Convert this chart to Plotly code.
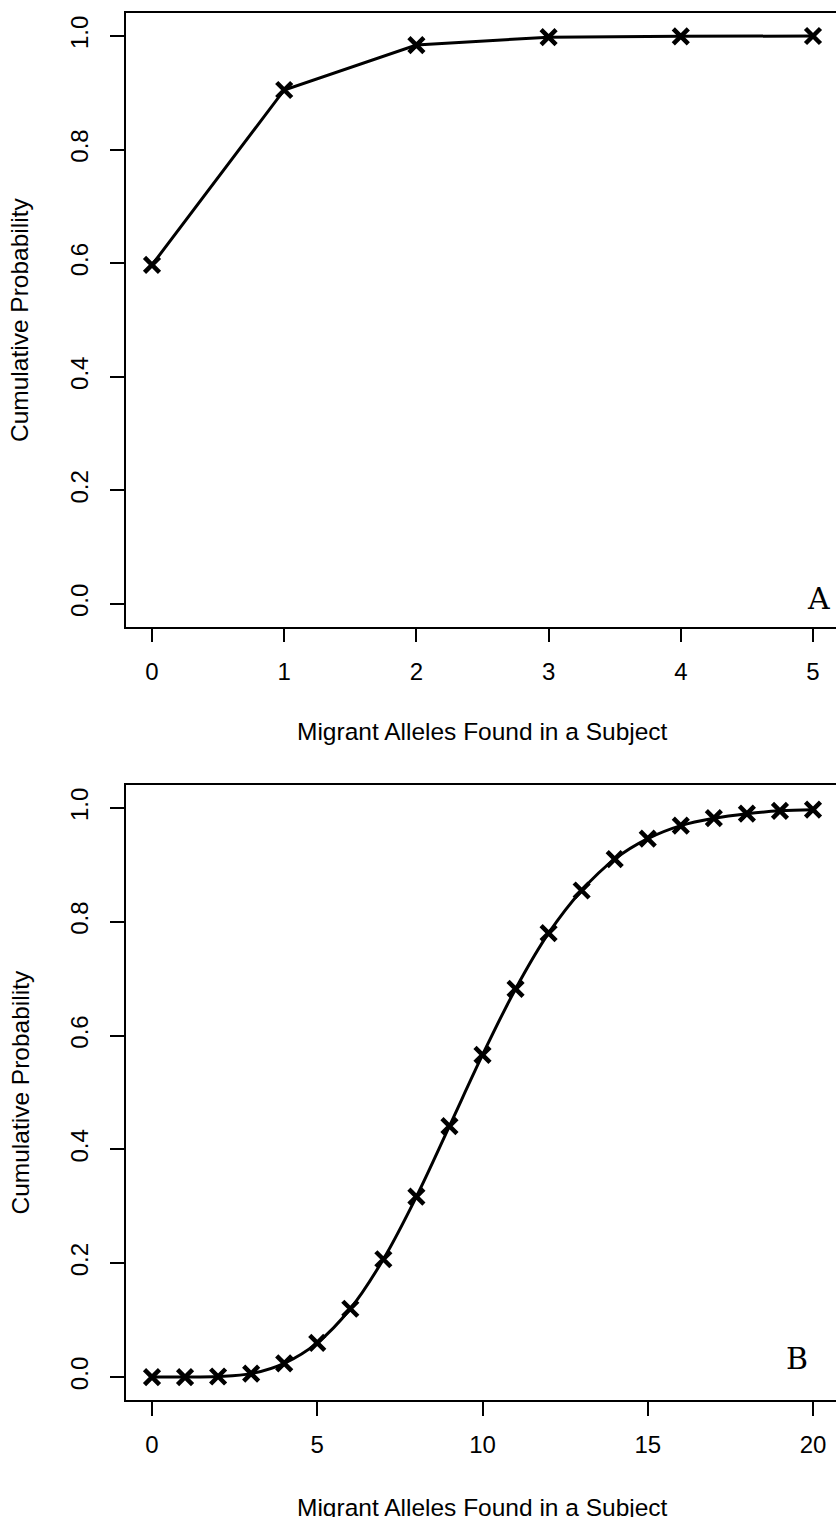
import plotly.graph_objects as go

W, H = 836, 1517

# ---- data ----
x_a = [0, 1, 2, 3, 4, 5]
y_a = [0.597, 0.905, 0.984, 0.998, 0.9995, 1.000]

x_b = list(range(0, 21))
y_b = [0.000, 0.000, 0.001, 0.006, 0.024, 0.060, 0.120, 0.207, 0.317, 0.441,
       0.566, 0.682, 0.780, 0.855, 0.910, 0.946, 0.969, 0.982, 0.990, 0.995, 0.997]

x_ticks_a = [0, 1, 2, 3, 4, 5]
x_ticks_b = [0, 5, 10, 15, 20]
y_ticks = [0.0, 0.2, 0.4, 0.6, 0.8, 1.0]
y_tick_text = ["0.0", "0.2", "0.4", "0.6", "0.8", "1.0"]

x_title = "Migrant Alleles Found in a Subject"
y_title = "Cumulative Probability"
panel_labels = ["A", "B"]

FONT = "Liberation Sans, Arial, Helvetica, sans-serif"
SLAB = "DejaVu Serif, serif"


def px_x(p):
    return p / W


def px_y(p):
    return 1 - p / H


fig = go.Figure()

marker = dict(symbol="x-thin-open", size=15, color="black",
              line=dict(color="black", width=4.5))

fig.add_trace(go.Scatter(x=x_a, y=y_a, mode="lines+markers",
                         line=dict(color="black", width=3),
                         marker=marker, xaxis="x", yaxis="y",
                         showlegend=False))
fig.add_trace(go.Scatter(x=x_b, y=y_b, mode="lines+markers",
                         line=dict(color="black", width=3, shape="spline",
                                   smoothing=1.0),
                         marker=marker, xaxis="x2", yaxis="y2",
                         showlegend=False))

axis_common = dict(showgrid=False, zeroline=False, showline=True,
                   linecolor="black", linewidth=1.5, ticks="outside",
                   ticklen=14, tickwidth=1.5, tickcolor="black",
                   tickfont=dict(family=FONT, size=24, color="black"))

# panel geometry (pixels)
a_ppu = (813 - 152) / 5.0
a_left = 152 - 0.2 * a_ppu
b_ppu = (813 - 152) / 20.0
b_left = 152 - 0.8 * b_ppu

a_top, a_bot = 13.3, 626.7
b_top, b_bot = 785.2, 1399.8

fig.update_layout(
    width=W, height=H, autosize=False,
    margin=dict(l=0, r=0, t=0, b=0),
    paper_bgcolor="white", plot_bgcolor="white",
    xaxis=dict(domain=[px_x(a_left), 1], range=[-0.2, (W - 152) / a_ppu],
               tickmode="array", tickvals=x_ticks_a,
               ticktext=[str(v) for v in x_ticks_a],
               mirror=True, anchor="y", ticklabelstandoff=9, **axis_common),
    yaxis=dict(domain=[px_y(a_bot), px_y(a_top)], range=[-0.04, 1.04],
               tickmode="array", tickvals=y_ticks, ticktext=y_tick_text,
               tickangle=-90, anchor="x", ticklabelstandoff=12,
               **axis_common),
    xaxis2=dict(domain=[px_x(b_left), 1], range=[-0.8, (W - 152) / b_ppu],
                tickmode="array", tickvals=x_ticks_b,
                ticktext=[str(v) for v in x_ticks_b],
                mirror=True, anchor="y2", ticklabelstandoff=9, **axis_common),
    yaxis2=dict(domain=[px_y(b_bot), px_y(b_top)], range=[-0.04, 1.04],
                tickmode="array", tickvals=y_ticks, ticktext=y_tick_text,
                tickangle=-90, anchor="x2", ticklabelstandoff=12,
                **axis_common),
)

title_font = dict(family=FONT, size=24.5, color="black")
annos = [
    dict(x=px_x(482.6), y=px_y(732), text=x_title),
    dict(x=px_x(482.6), y=px_y(1507), text=x_title),
    dict(x=px_x(20), y=px_y((a_top + a_bot) / 2), text=y_title, textangle=-90),
    dict(x=px_x(20), y=px_y((b_top + b_bot) / 2), text=y_title, textangle=-90),
]
for a in annos:
    fig.add_annotation(xref="paper", yref="paper", showarrow=False,
                       xanchor="center", yanchor="middle", font=title_font, **a)

fig.add_annotation(xref="paper", yref="paper", x=px_x(818), y=px_y(598),
                   text=panel_labels[0], showarrow=False, xanchor="center",
                   yanchor="middle", font=dict(family=SLAB, size=30,
                                               color="black"))
fig.add_annotation(xref="paper", yref="paper", x=px_x(797), y=px_y(1358),
                   text=panel_labels[1], showarrow=False, xanchor="center",
                   yanchor="middle", font=dict(family=SLAB, size=30,
                                               color="black"))

fig.write_html(
    "out.html",
    config={"displayModeBar": False},
    post_script="document.body.style.margin='0';document.body.style.overflow='hidden';",
)
